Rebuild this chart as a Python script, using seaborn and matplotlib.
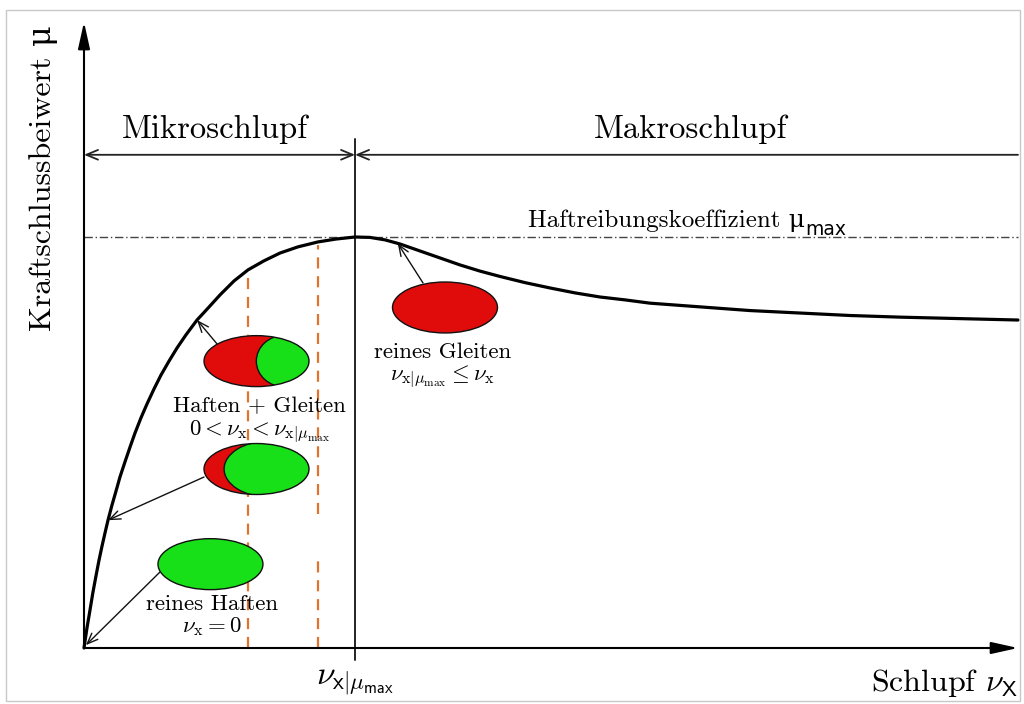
import matplotlib
matplotlib.use("Agg")
import matplotlib.pyplot as plt
from matplotlib.patches import Ellipse, Rectangle
import seaborn as sns

# Slip (in % of the drawn range) and friction coefficient relative to mu_max
slip = [0.0, 0.32, 0.64, 0.96, 1.28, 1.61, 1.93, 2.25, 2.57, 3.00, 3.43,
        3.85, 4.39, 4.93, 5.46, 6.10, 6.75, 7.49, 8.24, 9.10, 9.96, 10.92,
        12.10, 13.28, 14.56, 16.06, 17.56, 19.27, 20.99, 22.91, 25.05, 26.98,
        29.02, 30.62, 32.23, 33.83, 35.97, 38.12, 40.26, 42.40, 44.54, 47.22,
        49.89, 52.57, 55.25, 57.92, 60.60, 65.95, 71.31, 76.66, 82.01, 87.37,
        92.72, 100.0]
mu = [0.0, 0.049, 0.092, 0.136, 0.175, 0.214, 0.248, 0.280, 0.311, 0.348,
      0.382, 0.416, 0.453, 0.489, 0.523, 0.560, 0.594, 0.630, 0.664, 0.698,
      0.730, 0.762, 0.798, 0.827, 0.859, 0.893, 0.920, 0.942, 0.961, 0.976,
      0.988, 0.995, 1.0, 0.999, 0.993, 0.983, 0.966, 0.949, 0.932, 0.917,
      0.904, 0.889, 0.876, 0.864, 0.854, 0.847, 0.839, 0.830, 0.821, 0.815,
      0.809, 0.805, 0.802, 0.798]

mu_max = 1.0
slip_at_mu_max = 29.02
# orange helper lines inside the micro-slip range: slip and drawn pieces
helper_slip = [17.56, 25.05]
helper_pieces = [[(0.0, 0.915)], [(0.0, 0.22), (0.325, 0.98)]]

region_labels = ["Mikroschlupf", "Makroschlupf"]

RED = "#e00c0c"
GREEN = "#18e018"
ORANGE = "#e0742f"

sns.set_theme(style="white")
plt.rcParams["font.family"] = ["cmr10", "DejaVu Serif"]
plt.rcParams["mathtext.fontset"] = "cm"
plt.rcParams["axes.formatter.use_mathtext"] = True
plt.rcParams["text.color"] = "black"

fig = plt.figure(figsize=(10.24, 7.04), dpi=100)
fig.patch.set_facecolor("white")
fig.patches.append(Rectangle((6 / 1024, 3 / 704), 1014 / 1024, 691 / 704,
                             transform=fig.transFigure, fill=False,
                             edgecolor="#c8c8c8", lw=1.0))

ax = fig.add_axes([84 / 1024, 56 / 704, 934 / 1024, 626 / 704])
ax.set_xlim(0, 100)
ax.set_ylim(0, 1.5231)
ax.set_axis_off()

# friction curve
sns.lineplot(x=slip, y=mu, ax=ax, color="black", lw=2.3, clip_on=False,
             zorder=3, solid_joinstyle="round", solid_capstyle="round")

# coordinate axes with arrow heads
axis_arrow = dict(arrowstyle="-|>,head_length=0.9,head_width=0.2",
                  color="black", lw=1.5, shrinkA=0, shrinkB=0,
                  mutation_scale=18)
ax.annotate("", xy=(100.0, 0), xytext=(0, 0), arrowprops=axis_arrow,
            annotation_clip=False)
ax.annotate("", xy=(0, 1.523), xytext=(0, 0), arrowprops=axis_arrow,
            annotation_clip=False)

# mu_max level
ax.plot([0, 100], [mu_max, mu_max], color="#444444", lw=1.0,
        dashes=(6, 2, 1, 2), clip_on=False, zorder=2)
t_mu = ax.text(77.2, 1.039, "Haftreibungskoeffizient μ", ha="right",
               va="center", fontsize=18)
ax.annotate("max", xy=(1.0, 0.1), xycoords=t_mu, ha="left", va="center",
            fontsize=13.5, family="DejaVu Sans")

# boundary between micro and macro slip
ax.plot([slip_at_mu_max, slip_at_mu_max], [-0.029, 1.238], color="#222222",
        lw=1.4, clip_on=False, zorder=2)

# region arrows
region_y = 1.2
ax.annotate("", xy=(0, region_y), xytext=(slip_at_mu_max, region_y),
            arrowprops=dict(arrowstyle="<->,head_length=0.6,head_width=0.25",
                            color="#222222", lw=1.3, shrinkA=0, shrinkB=0,
                            mutation_scale=14), annotation_clip=False)
ax.annotate("", xy=(slip_at_mu_max, region_y), xytext=(100, region_y),
            arrowprops=dict(arrowstyle="->,head_length=0.6,head_width=0.25",
                            color="#222222", lw=1.3, shrinkA=0, shrinkB=0,
                            mutation_scale=14), annotation_clip=False)
ax.text(14.0, 1.262, region_labels[0], ha="center", va="center",
        fontsize=23.5)
ax.text(64.9, 1.262, region_labels[1], ha="center", va="center",
        fontsize=23.5)

# orange helper lines
for xs, pieces in zip(helper_slip, helper_pieces):
    for y0, y1 in pieces:
        ax.plot([xs, xs], [y0, y1], color=ORANGE, lw=1.6, ls=(0, (5, 3.5)),
                zorder=1)

# contact patch sketches
ell_w, ell_h = 11.24, 0.124


def contact_patch(cx, cy, green=None, red=True):
    if red:
        base = Ellipse((cx, cy), ell_w, ell_h, facecolor=RED, edgecolor="none",
                       zorder=4)
        ax.add_patch(base)
        if green is not None:
            gx, gw, gh = green
            g = Ellipse((gx, cy), gw, gh, facecolor=GREEN, edgecolor="#111111",
                        lw=1.0, zorder=5)
            ax.add_patch(g)
            g.set_clip_path(base)
    else:
        ax.add_patch(Ellipse((cx, cy), ell_w, ell_h, facecolor=GREEN,
                             edgecolor="none", zorder=4))
    ax.add_patch(Ellipse((cx, cy), ell_w, ell_h, facecolor="none",
                         edgecolor="#111111", lw=1.0, zorder=6))


contact_patch(13.54, 0.204, red=False)
contact_patch(18.47, 0.4355, green=(19.75, 9.5, 0.136))
contact_patch(18.47, 0.698, green=(21.5, 6.1, 0.126))
contact_patch(38.65, 0.8285)

thin_arrow = dict(arrowstyle="->,head_length=0.55,head_width=0.22",
                  color="#111111", lw=1.0, shrinkA=0, shrinkB=0,
                  mutation_scale=14)
ax.annotate("", xy=(0.2, 0.007), xytext=(8.14, 0.185), arrowprops=thin_arrow)
ax.annotate("", xy=(2.57, 0.311), xytext=(12.85, 0.416), arrowprops=thin_arrow)
ax.annotate("", xy=(12.1, 0.798), xytext=(14.35, 0.737), arrowprops=thin_arrow)
ax.annotate("", xy=(33.6, 0.984), xytext=(36.3, 0.888), arrowprops=thin_arrow)

# labels of the sketches
lab = 16.5
ax.text(18.74, 0.589, "Haften + Gleiten", ha="center", va="center",
        fontsize=lab, zorder=7)
ax.text(18.74, 0.527,
        r"$0 < \nu_{\mathrm{x}} < \nu_{\mathrm{x}|\mu_{\mathrm{max}}}$",
        ha="center", va="center", fontsize=lab, zorder=7)
ax.text(13.7, 0.107, "reines Haften", ha="center", va="center", fontsize=lab)
ax.text(13.7, 0.051, r"$\nu_{\mathrm{x}} = 0$", ha="center", va="center",
        fontsize=lab)
ax.text(38.4, 0.720, "reines Gleiten", ha="center", va="center", fontsize=lab)
ax.text(38.4, 0.659,
        r"$\nu_{\mathrm{x}|\mu_{\mathrm{max}}} \leq \nu_{\mathrm{x}}$",
        ha="center", va="center", fontsize=lab)

# axis labels
ax.text(slip_at_mu_max, -0.085, r"$\nu_{\mathsf{x}|\mu_{\mathsf{max}}}$",
        ha="center", va="center", fontsize=24)
ax.text(100, -0.085, r"Schlupf $\nu_{\mathsf{X}}$", ha="right", va="center",
        fontsize=23)
fig.text(44 / 1024, 1 - 178 / 704, "Kraftschlussbeiwert μ", rotation=90,
         ha="center", va="center", fontsize=23)

fig.savefig("out.png", dpi=100, facecolor="white")
